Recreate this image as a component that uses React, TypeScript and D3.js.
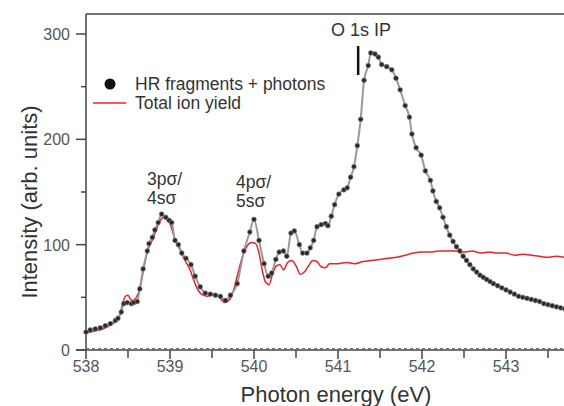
import React, { useEffect, useRef } from 'react';
import * as d3 from 'd3';

// HR fragments + photons (black dots, gray line)
const hrEnergy = [
  538.0, 538.05, 538.11, 538.17, 538.23, 538.29, 538.35, 538.38, 538.42, 538.45,
  538.49, 538.54, 538.57, 538.61, 538.64, 538.68, 538.73, 538.75, 538.79, 538.82,
  538.86, 538.9, 538.95, 538.99, 539.02, 539.06, 539.1, 539.14, 539.19, 539.25,
  539.3, 539.36, 539.42, 539.48, 539.54, 539.6, 539.66, 539.72, 539.8, 539.88,
  539.95, 540.0, 540.06, 540.12, 540.17, 540.21, 540.26, 540.3, 540.35, 540.39,
  540.44, 540.48, 540.54, 540.58, 540.63, 540.67, 540.71, 540.75, 540.8, 540.85,
  540.88, 540.92, 540.96, 541.01, 541.07, 541.11, 541.15, 541.19, 541.23, 541.27,
  541.31, 541.36, 541.39, 541.44, 541.48, 541.52, 541.58, 541.64, 541.69, 541.74,
  541.8, 541.85, 541.88, 541.93, 541.99, 542.04, 542.1, 542.13, 542.17, 542.21,
  542.25, 542.29, 542.33, 542.37, 542.41, 542.45, 542.49, 542.53, 542.57, 542.61,
  542.65, 542.69, 542.73, 542.77, 542.81, 542.85, 542.9, 542.95, 543.0, 543.05,
  543.1, 543.15, 543.2, 543.25, 543.3, 543.35, 543.4, 543.45, 543.5, 543.55,
  543.6, 543.65, 543.7,
];
const hrValues = [
  17, 19, 20, 21, 23, 25, 28, 30, 36, 44,
  45, 44, 45, 46, 58, 77, 94, 101, 107, 114,
  121, 129, 126, 123, 121, 104, 100, 92, 87, 81,
  70, 60, 54, 53, 52, 51, 47, 52, 63, 94,
  112, 124, 104, 82, 70, 73, 86, 93, 94, 89,
  111, 113, 100, 92, 92, 97, 104, 117, 119, 120,
  118, 127, 138, 148, 152, 154, 164, 174, 194, 219,
  256, 270, 282, 281, 278, 271, 269, 266, 258, 247,
  232, 221, 205, 192, 185, 170, 161, 151, 141, 135,
  126, 117, 109, 103, 98, 94, 89, 85, 81, 77,
  74, 71, 69, 67, 65, 63, 61, 59, 57, 55,
  53, 51, 50, 49, 48, 47, 46, 44, 43, 42,
  41, 40, 39,
];

// Total ion yield (red line)
const tiyEnergy = [
  538.0, 538.05, 538.1, 538.15, 538.2, 538.25, 538.3, 538.35, 538.4, 538.44,
  538.47, 538.5, 538.53, 538.56, 538.6, 538.64, 538.68, 538.72, 538.76, 538.8,
  538.84, 538.88, 538.92, 538.96, 539.0, 539.04, 539.08, 539.12, 539.16, 539.2,
  539.24, 539.28, 539.32, 539.36, 539.4, 539.45, 539.5, 539.55, 539.6, 539.65,
  539.7, 539.75, 539.8, 539.86, 539.92, 539.97, 540.02, 540.06, 540.1, 540.14,
  540.18, 540.22, 540.27, 540.31, 540.35, 540.4, 540.45, 540.5, 540.55, 540.6,
  540.65, 540.7, 540.75, 540.8, 540.85, 540.9, 541.0, 541.1, 541.2, 541.3,
  541.4, 541.5, 541.6, 541.7, 541.8, 541.9, 542.0, 542.1, 542.2, 542.3,
  542.4, 542.5, 542.6, 542.7, 542.8, 542.9, 543.0, 543.1, 543.2, 543.3,
  543.4, 543.5, 543.6, 543.7,
];
const tiyValues = [
  16, 17, 18, 19, 20, 22, 24, 27, 33, 45,
  51, 52, 48, 47, 50, 58, 74, 90, 100, 106,
  115, 122, 126, 124, 120, 110, 101, 95, 88, 82,
  76, 67, 59, 54, 52, 51, 53, 52, 49, 45,
  47, 55, 70, 88, 99, 102, 101, 92, 75, 64,
  62, 72, 80, 81, 76, 83, 85, 80, 72, 74,
  80, 85, 84, 79, 78, 82, 82, 83, 82, 84,
  85, 86, 87, 88, 90, 92, 93, 93, 94, 94,
  94, 93, 94, 92, 93, 92, 92, 90, 91, 90,
  89, 88, 89, 88,
];

const xMajor = [538, 539, 540, 541, 542, 543];
const xMinor = [538.5, 539.5, 540.5, 541.5, 542.5, 543.5];
const yMajor = [0, 100, 200, 300];
const yMinor = [50, 150, 250];

const ionEnergy = 541.24;

const FONT = "'Liberation Sans', Arial, Helvetica, sans-serif";
const AXIS = '#444';

const App = () => {
  const ref = useRef<SVGSVGElement>(null);
  const width = 564;
  const height = 406;

  useEffect(() => {
    const svg = d3.select(ref.current);
    svg.selectAll('*').remove();

    const x = d3.scaleLinear().domain([538, 543.7]).range([86, 564.8]);
    const y = d3.scaleLinear().domain([0, 300]).range([350, 34]);
    const y0 = y(0);
    const x0 = x(538);

    const hr = hrEnergy.map((e, i) => [e, hrValues[i]] as [number, number]);
    const tiy = tiyEnergy.map((e, i) => [e, tiyValues[i]] as [number, number]);

    const line = d3
      .line<[number, number]>()
      .x((d) => x(d[0]))
      .y((d) => y(d[1]))
      .curve(d3.curveMonotoneX);

    // frame
    svg
      .append('line')
      .attr('x1', x0)
      .attr('x2', width)
      .attr('y1', 14)
      .attr('y2', 14)
      .attr('stroke', AXIS)
      .attr('stroke-width', 1.5);
    svg
      .append('line')
      .attr('x1', x0)
      .attr('x2', x0)
      .attr('y1', 14)
      .attr('y2', y0)
      .attr('stroke', AXIS)
      .attr('stroke-width', 1.5);
    svg
      .append('line')
      .attr('x1', x0 - 10)
      .attr('x2', width)
      .attr('y1', y0)
      .attr('y2', y0)
      .attr('stroke', AXIS)
      .attr('stroke-width', 1.5);

    // near-zero background trace
    svg
      .append('line')
      .attr('x1', x0)
      .attr('x2', width)
      .attr('y1', y0 - 1.5)
      .attr('y2', y0 - 1.5)
      .attr('stroke', '#777')
      .attr('stroke-width', 1)
      .attr('stroke-dasharray', '3,3');

    // y ticks
    svg
      .selectAll('.ymaj')
      .data(yMajor)
      .join('line')
      .attr('x1', x0 - 10)
      .attr('x2', x0)
      .attr('y1', (d) => y(d))
      .attr('y2', (d) => y(d))
      .attr('stroke', AXIS)
      .attr('stroke-width', 1.5);
    svg
      .selectAll('.ymin')
      .data(yMinor)
      .join('line')
      .attr('x1', x0 - 5)
      .attr('x2', x0)
      .attr('y1', (d) => y(d))
      .attr('y2', (d) => y(d))
      .attr('stroke', AXIS)
      .attr('stroke-width', 1.5);
    svg
      .selectAll('.ylab')
      .data(yMajor)
      .join('text')
      .attr('x', x0 - 16)
      .attr('y', (d) => y(d) + 6)
      .attr('text-anchor', 'end')
      .attr('font-family', FONT)
      .attr('font-size', 16)
      .attr('fill', '#555')
      .text((d) => d);

    // x ticks
    svg
      .selectAll('.xmaj')
      .data(xMajor)
      .join('line')
      .attr('x1', (d) => x(d))
      .attr('x2', (d) => x(d))
      .attr('y1', y0)
      .attr('y2', y0 + 9)
      .attr('stroke', AXIS)
      .attr('stroke-width', 1.5);
    svg
      .selectAll('.xmin')
      .data(xMinor)
      .join('line')
      .attr('x1', (d) => x(d))
      .attr('x2', (d) => x(d))
      .attr('y1', y0)
      .attr('y2', y0 + 8)
      .attr('stroke', AXIS)
      .attr('stroke-width', 1.5);
    svg
      .selectAll('.xlab')
      .data(xMajor)
      .join('text')
      .attr('x', (d) => x(d))
      .attr('y', y0 + 22)
      .attr('text-anchor', 'middle')
      .attr('font-family', FONT)
      .attr('font-size', 16)
      .attr('fill', '#555')
      .text((d) => d);

    // axis titles
    svg
      .append('text')
      .attr('transform', `translate(37, 202) rotate(-90)`)
      .attr('text-anchor', 'middle')
      .attr('font-family', FONT)
      .attr('font-size', 22)
      .attr('fill', '#333')
      .text('Intensity (arb. units)');
    svg
      .append('text')
      .attr('x', 336)
      .attr('y', 402)
      .attr('text-anchor', 'middle')
      .attr('font-family', FONT)
      .attr('font-size', 22)
      .attr('fill', '#333')
      .text('Photon energy (eV)');

    // total ion yield
    svg
      .append('path')
      .datum(tiy)
      .attr('d', line)
      .attr('fill', 'none')
      .attr('stroke', '#e8232a')
      .attr('stroke-width', 1.5);

    // HR fragments + photons
    svg
      .append('path')
      .datum(hr)
      .attr('d', line)
      .attr('fill', 'none')
      .attr('stroke', '#9a9a9a')
      .attr('stroke-width', 2);
    svg
      .selectAll('.hrdot')
      .data(hr)
      .join('circle')
      .attr('cx', (d) => x(d[0]))
      .attr('cy', (d) => y(d[1]))
      .attr('r', 2.4)
      .attr('fill', '#2a2a2a')
      .attr('stroke', '#888')
      .attr('stroke-width', 0.6);

    // O 1s IP marker
    svg
      .append('line')
      .attr('x1', x(ionEnergy))
      .attr('x2', x(ionEnergy))
      .attr('y1', 46)
      .attr('y2', 75)
      .attr('stroke', '#111')
      .attr('stroke-width', 2.5);
    svg
      .append('text')
      .attr('x', 331)
      .attr('y', 36)
      .attr('font-family', FONT)
      .attr('font-size', 18)
      .attr('fill', '#333')
      .text('O 1s IP');

    // peak labels
    const labels = [
      { t: '3pσ/', x: 147, y: 185 },
      { t: '4sσ', x: 147, y: 204 },
      { t: '4pσ/', x: 236, y: 188 },
      { t: '5sσ', x: 236, y: 207 },
    ];
    svg
      .selectAll('.plab')
      .data(labels)
      .join('text')
      .attr('x', (d) => d.x)
      .attr('y', (d) => d.y)
      .attr('font-family', FONT)
      .attr('font-size', 17.5)
      .attr('fill', '#333')
      .text((d) => d.t);

    // legend
    svg
      .append('circle')
      .attr('cx', 110)
      .attr('cy', 84)
      .attr('r', 5.5)
      .attr('fill', '#111');
    svg
      .append('text')
      .attr('x', 135)
      .attr('y', 90)
      .attr('font-family', FONT)
      .attr('font-size', 17.5)
      .attr('fill', '#333')
      .text('HR fragments + photons');
    svg
      .append('line')
      .attr('x1', 93)
      .attr('x2', 126)
      .attr('y1', 103)
      .attr('y2', 103)
      .attr('stroke', '#e8232a')
      .attr('stroke-width', 1.5);
    svg
      .append('text')
      .attr('x', 135)
      .attr('y', 109)
      .attr('font-family', FONT)
      .attr('font-size', 17.5)
      .attr('fill', '#333')
      .text('Total ion yield');
  }, []);

  return (
    <div style={{ position: 'absolute', left: 0, top: 0 }}>
      <svg ref={ref} width={width} height={height} style={{ display: 'block', background: '#fff' }} />
    </div>
  );
};

export default App;
